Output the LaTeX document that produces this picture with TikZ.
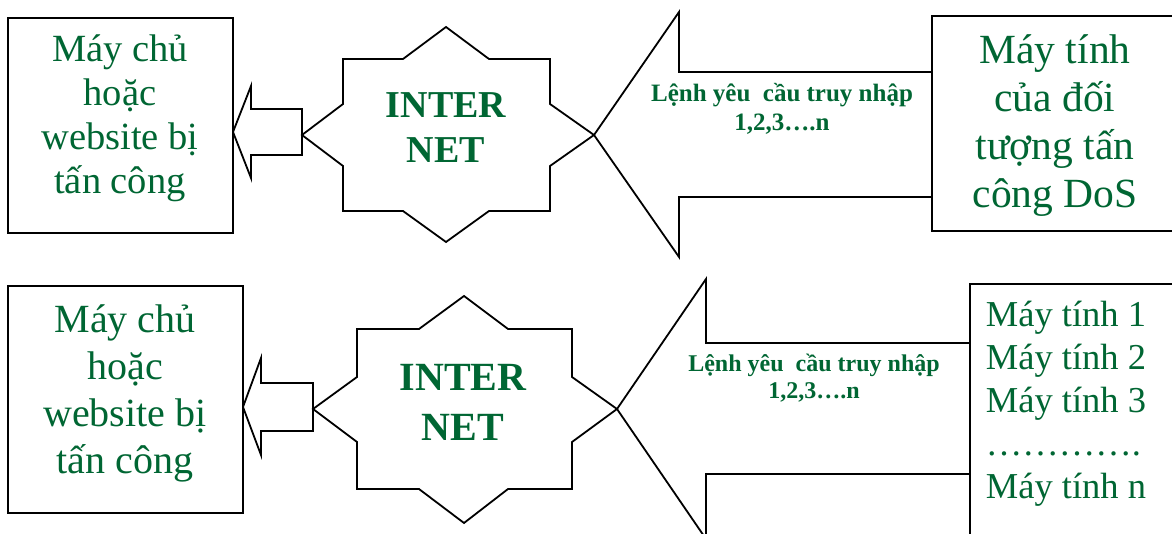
\documentclass[tikz,border=0pt]{standalone}
\usepackage{fontspec}
\setmainfont{Liberation Serif}
\definecolor{dgreen}{RGB}{0,102,51}
\begin{document}
\begin{tikzpicture}[x=1pt,y=-1pt,line width=1.8pt,line join=miter,
  shp/.style={draw=black,fill=white},
  boxtxt/.style={text=dgreen,align=center,anchor=base,inner sep=0pt}]
\useasboundingbox (0,0) rectangle (1172,534);
\clip (0,0) rectangle (1172,534);
% ---------- top row ----------
\draw[shp] (8,18) rectangle (233,233);
\node[boxtxt,font=\fontsize{38.5}{44}\selectfont] (srv1) at (120,194) {Máy chủ\\hoặc\\website bị\\tấn công};
\draw[shp] (233,132) -- (251,86) -- (251,109) -- (302,109) -- (302,155) -- (251,155) -- (251,178) -- cycle;
\draw[shp] (302,135) -- (343,104) -- (343,59) -- (403,59) -- (446,27) -- (489,59) -- (550,59) -- (550,104) -- (594,135)
  -- (550,166) -- (550,211) -- (489,211) -- (446,242) -- (403,211) -- (343,211) -- (343,166) -- cycle;
\node[boxtxt,font=\bfseries\fontsize{38}{45}\selectfont] (net1) at (446,163) {INTER\\NET};
\draw[shp] (594,135) -- (679,12) -- (679,72) -- (932,72) -- (932,197) -- (679,197) -- (679,257) -- cycle;
\node[boxtxt,font=\bfseries\fontsize{25}{29}\selectfont] (cmd1) at (782,131) {Lệnh yêu\ \ cầu truy nhập\\1,2,3….n};
\draw[shp] (932,16) rectangle (1190,231);
\node[boxtxt,font=\fontsize{41.5}{48}\selectfont] (att1) at (1055,208) {Máy tính\\của đối\\tượng tấn\\công DoS};
% ---------- bottom row ----------
\draw[shp] (8,286) rectangle (243,513);
\node[boxtxt,font=\fontsize{40}{47}\selectfont] (srv2) at (125,473) {Máy chủ\\hoặc\\website bị\\tấn công};
\draw[shp] (243,407) -- (261,358) -- (261,383) -- (313,383) -- (313,431) -- (261,431) -- (261,455) -- cycle;
\draw[shp] (313,409) -- (357,377) -- (357,329) -- (419,329) -- (464,296) -- (508,329) -- (572,329) -- (572,377) -- (617,409)
  -- (572,442) -- (572,489) -- (508,489) -- (464,523) -- (419,489) -- (357,489) -- (357,442) -- cycle;
\node[boxtxt,font=\bfseries\fontsize{40}{50}\selectfont] (net2) at (463,440) {INTER\\NET};
\draw[shp] (617,409) -- (706,279) -- (706,343) -- (970,343) -- (970,474) -- (706,474) -- (706,539) -- cycle;
\node[boxtxt,font=\bfseries\fontsize{24}{27}\selectfont] (cmd2) at (814,398) {Lệnh yêu\ \ cầu truy nhập\\1,2,3….n};
\draw[shp] (970,284) rectangle (1190,570);
\node[text=dgreen,align=left,anchor=base west,inner sep=0pt,font=\fontsize{36.5}{43}\selectfont] (pcs) at (985,498)
  {Máy tính 1\\Máy tính 2\\Máy tính 3\\………….\\Máy tính n};
\end{tikzpicture}
\end{document}
